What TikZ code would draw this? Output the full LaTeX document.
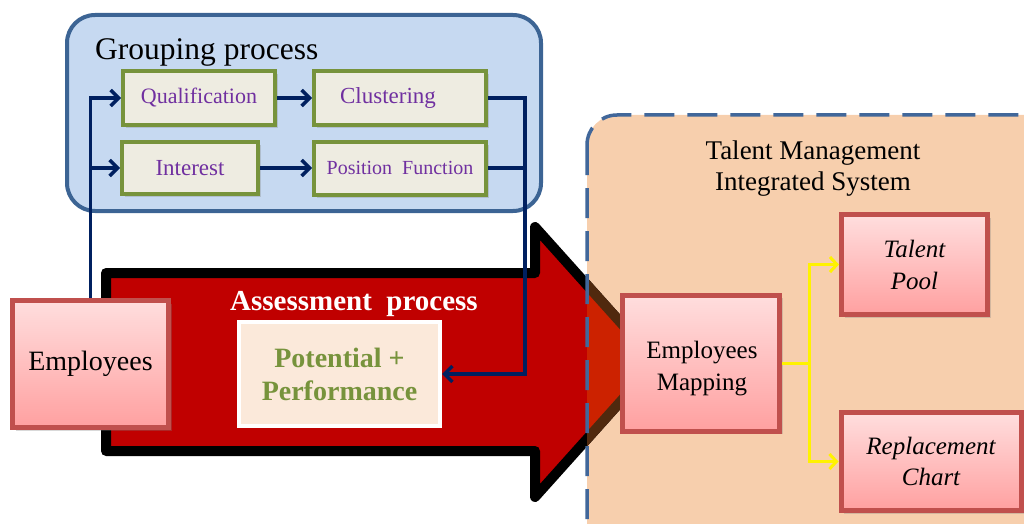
\documentclass[tikz,border=0pt]{standalone}
\usepackage{fontspec}
\setmainfont{Liberation Serif}
\usetikzlibrary{arrows.meta,shadows}
\definecolor{grpfill}{HTML}{C6D9F1}
\definecolor{grpdraw}{HTML}{3C6494}
\definecolor{gborder}{HTML}{77933C}
\definecolor{gfill}{HTML}{EEECE1}
\definecolor{purp}{HTML}{7030A0}
\definecolor{navyc}{HTML}{002060}
\definecolor{arrred}{HTML}{C00000}
\definecolor{pinkdraw}{HTML}{C0504D}
\definecolor{pinktop}{HTML}{FFDEDE}
\definecolor{pinkbot}{HTML}{FFA0A0}
\definecolor{ppfill}{HTML}{FBE9DA}
\definecolor{peach}{HTML}{F7CFAD}
\definecolor{dashblue}{HTML}{41679A}
\definecolor{headred}{HTML}{CC2200}
\definecolor{headbrown}{HTML}{50290E}
\tikzset{
  shd/.style={drop shadow={shadow xshift=3pt, shadow yshift=-3pt, opacity=.3}},
  gbox/.style={draw=gborder, line width=4pt, fill=gfill, inner sep=0pt, text=purp,
    font=\fontsize{22}{26}\selectfont, shd},
  pbox/.style={draw=pinkdraw, line width=5pt, top color=pinktop, bottom color=pinkbot,
    inner sep=0pt, align=center, shd},
  navyline/.style={draw=navyc, line width=3.5pt},
  navyarrow/.style={navyline, -{Straight Barb[length=8pt,width=16pt]}},
  yline/.style={draw=yellow, line width=3pt},
  yarrow/.style={yline, -{Straight Barb[length=7pt,width=15pt]}},
}
\begin{document}
\begin{tikzpicture}[x=1pt,y=-1pt]
\useasboundingbox (0,0) rectangle (1024,524);
\clip (0,0) rectangle (1024,524);
% grouping container
\draw[fill=grpfill, draw=grpdraw, line width=4pt, rounded corners=28pt] (67,15) rectangle (541,211);
\node[anchor=base west, inner sep=0pt, font=\fontsize{31.5}{36}\selectfont] (gtitle) at (95,60) {Grouping process};
% talent management container fill
\fill[peach, rounded corners=30pt] (587,115) rectangle (1070,570);
% big arrow
\path[fill=arrred, draw=black, line width=10pt, line join=round]
  (106,273) -- (535,273) -- (535,227) -- (656,362) -- (535,497) -- (535,451) -- (106,451) -- cycle;
\begin{scope}
  \clip[rounded corners=30pt] (587,115) rectangle (1070,570);
  \path[fill=headred, draw=headbrown, line width=10pt, line join=round]
    (106,273) -- (535,273) -- (535,227) -- (656,362) -- (535,497) -- (535,451) -- (106,451) -- cycle;
\end{scope}
\draw[dashblue, line width=3.5pt, dash pattern=on 30pt off 13pt, rounded corners=30pt] (587,115) rectangle (1070,570);
\node[anchor=north, align=center, inner sep=0pt, font=\fontsize{27}{31}\selectfont] (ttitle) at (813,141) {Talent Management\\Integrated System};
% grouping boxes
\node[gbox, minimum width=152pt, minimum height=54pt] (qual) at (199,98) {Qualification};
\node[gbox, minimum width=172pt, minimum height=54pt, font=\fontsize{23}{27}\selectfont] (clus) at (400,98) {\hspace*{-24pt}Clustering};
\node[gbox, minimum width=136pt, minimum height=52pt, font=\fontsize{23}{27}\selectfont] (intr) at (190,168) {Interest};
\node[gbox, minimum width=172pt, minimum height=53pt, font=\fontsize{20}{24}\selectfont] (posf) at (400,168) {Position\ \ Function};
% assessment
\node[anchor=base, inner sep=0pt, text=white, font=\fontsize{29}{33}\selectfont\bfseries] (assess) at (354,310) {Assessment\ \ process};
\node[draw=white, line width=4pt, fill=ppfill, minimum width=201pt, minimum height=104pt, inner sep=0pt,
  align=center, text=gborder, font=\fontsize{28}{33}\selectfont\bfseries] (pp) at (339.5,374) {Potential +\\Performance};
% employees
\node[pbox, minimum width=156pt, minimum height=127pt, font=\fontsize{28}{32}\selectfont] (emp) at (90.5,364) {Employees};
% navy connectors
\coordinate (nj) at (525,374);
\draw[navyarrow] (emp.north) |- (qual.west);
\draw[navyarrow] (emp.north) |- (intr.west);
\draw[navyarrow] (qual.east) -- (clus.west);
\draw[navyarrow] (intr.east) -- (posf.west);
\draw[navyline] (posf.east) -- (posf.east -| nj);
\draw[navyarrow] (clus.east) -| (nj) -- (pp.east);
% right side boxes
\node[pbox, minimum width=157pt, minimum height=136pt] (emap) at (701,363) {};
\node[align=center, inner sep=0pt, font=\fontsize{25}{32}\selectfont] (emaptxt) at (702,369) {Employees\\Mapping};
\node[pbox, minimum width=146pt, minimum height=100pt, font=\fontsize{25}{32}\selectfont\itshape] (tpool) at (914.5,264.5) {Talent\\Pool};
\node[pbox, minimum width=180pt, minimum height=98pt, font=\fontsize{25}{31}\selectfont\itshape] (rchart) at (931,461.5) {Replacement\\Chart};
% yellow connectors
\coordinate (yj) at (809,363);
\draw[yline] (emap.east) -- (yj);
\draw[yarrow] (yj) |- (tpool.west);
\draw[yarrow] (yj) |- (rchart.west);
\end{tikzpicture}
\end{document}
